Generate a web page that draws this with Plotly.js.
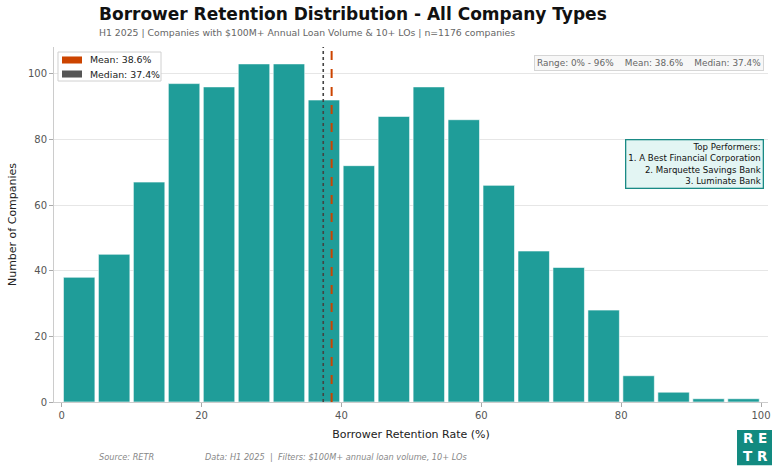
<!DOCTYPE html>
<html><head><meta charset="utf-8">
<script src="https://cdn.plot.ly/plotly-3.0.1.min.js"></script>
<style>body{margin:0;background:#fff}#c{width:778px;height:469px}</style>
</head><body><div id="c"></div>
<script>
const binCenters = [2.5,7.5,12.5,17.5,22.5,27.5,32.5,37.5,42.5,47.5,52.5,57.5,62.5,67.5,72.5,77.5,82.5,87.5,92.5,97.5];
const counts = [38,45,67,97,96,103,103,92,72,87,96,86,66,46,41,28,8,3,1,1];
const meanVal = 38.6;
const medianVal = 37.4;
const topPerformers = ["A Best Financial Corporation","Marquette Savings Bank","Luminate Bank"];
const xTicks = [0,20,40,60,80,100];
const yTicks = [0,20,40,60,80,100];

const F = "DejaVu Sans, sans-serif";
const meanColor = '#cc4400', medianColor = '#555555';
const traces = [
  {type:'bar', x:binCenters, y:counts, width:4.5, marker:{color:'#1f9d99', line:{color:'#ffffff', width:0.6}}, showlegend:false, hoverinfo:'x+y'}
];
// legend (drawn manually, matplotlib style)
const legendItems = [
  {label:'Mean: '+meanVal.toFixed(1)+'%', color:meanColor, yc:0.9634},
  {label:'Median: '+medianVal.toFixed(1)+'%', color:medianColor, yc:0.9239}
];
const shapes = [
  {type:'line', xref:'x', yref:'paper', x0:medianVal, x1:medianVal, y0:0, y1:1, line:{color:'#444', width:1.6, dash:'dot'}},
  {type:'line', xref:'x', yref:'paper', x0:meanVal, x1:meanVal, y0:0, y1:1, line:{color:meanColor, width:2, dash:'dash'}},
  {type:'rect', xref:'paper', yref:'paper', x0:0.9566, x1:1.0056, y0:-0.079, y1:-0.178, fillcolor:'#128a80', line:{width:0}},
  {type:'rect', xref:'paper', yref:'paper', x0:0.0056, x1:0.1499, y0:0.9042, y1:0.9859, fillcolor:'rgba(255,255,255,0.9)', line:{color:'#d0d0d0', width:1}}
];
const annotations = [
  {xref:'paper', yref:'paper', x:0.0, xanchor:'left', y:1.058, yanchor:'bottom', xshift:43, showarrow:false,
    text:'<b>Borrower Retention Distribution - All Company Types</b>', font:{size:17, color:'#111'}},
  {xref:'paper', yref:'paper', x:0.0, xanchor:'left', y:1.021, yanchor:'bottom', xshift:43, showarrow:false,
    text:'H1 2025 | Companies with $100M+ Annual Loan Volume & 10+ LOs | n=1176 companies', font:{size:9.3, color:'#666'}},
  {xref:'paper', yref:'paper', x:0.995, xanchor:'right', y:0.977, yanchor:'top', showarrow:false,
    text:'Range: 0% - 96%    Mean: '+meanVal.toFixed(1)+'%    Median: '+medianVal.toFixed(1)+'%',
    font:{size:8.9, color:'#666'}, bgcolor:'#f7f7f7', bordercolor:'#d5d5d5', borderwidth:1, borderpad:2},
  {xref:'paper', yref:'paper', x:0.995, xanchor:'right', y:0.742, yanchor:'top', showarrow:false, align:'right',
    text:'Top Performers:<br>'+topPerformers.map((t,i)=>(i+1)+'. '+t).join('<br>'),
    font:{size:8.6, color:'#111'}, bgcolor:'#e3f5f3', bordercolor:'#1a8a85', borderwidth:1.3, borderpad:2},
  {xref:'paper', yref:'paper', x:0.0, xanchor:'left', y:-0.155, yanchor:'middle', xshift:43, showarrow:false,
    text:'<i>Source: RETR</i>', font:{size:8.2, color:'#888'}},
  {xref:'paper', yref:'paper', x:0.0, xanchor:'left', y:-0.155, yanchor:'middle', xshift:149, showarrow:false,
    text:'<i>Data: H1 2025  |  Filters: $100M+ annual loan volume, 10+ LOs</i>', font:{size:8.2, color:'#888'}},
  {xref:'paper', yref:'paper', x:0.9825, xanchor:'center', y:-0.128, yanchor:'middle', showarrow:false,
    text:'<b>R E<br>T R</b>', font:{size:13.5, color:'#fff'}}
];
legendItems.forEach(it => {
  shapes.push({type:'rect', xref:'paper', yref:'paper', x0:0.0112, x1:0.0392, y0:it.yc-0.0099, y1:it.yc+0.0099, fillcolor:it.color, line:{width:0}});
  annotations.push({xref:'paper', yref:'paper', x:0.0476, xanchor:'left', y:it.yc, yanchor:'middle', showarrow:false,
    text:it.label, font:{size:9.4, color:'#222'}});
});
const layout = {
  width:778, height:469,
  margin:{l:54, r:10, t:47, b:67},
  paper_bgcolor:'#fff', plot_bgcolor:'#fff',
  font:{family:F, color:'#333', size:10},
  bargap:0, showlegend:false,
  xaxis:{range:[-1.1,101], tickvals:xTicks, ticks:'outside', ticklen:4, tickcolor:'#aaa',
    showline:true, linecolor:'#ccc', linewidth:1, showgrid:false, zeroline:false,
    tickfont:{size:10, color:'#555'},
    title:{text:'Borrower Retention Rate (%)', font:{size:11, color:'#222'}, standoff:10}},
  yaxis:{range:[0,108.15], tickvals:yTicks, ticks:'outside', ticklen:4, tickcolor:'#aaa',
    showline:true, linecolor:'#ccc', linewidth:1, showgrid:true, gridcolor:'#e6e6e6', zeroline:false,
    tickfont:{size:10, color:'#555'},
    title:{text:'Number of Companies', font:{size:11, color:'#222'}, standoff:9}},
  shapes:shapes,
  annotations:annotations
};
Plotly.newPlot('c', traces, layout, {displayModeBar:false, staticPlot:true});
</script></body></html>
